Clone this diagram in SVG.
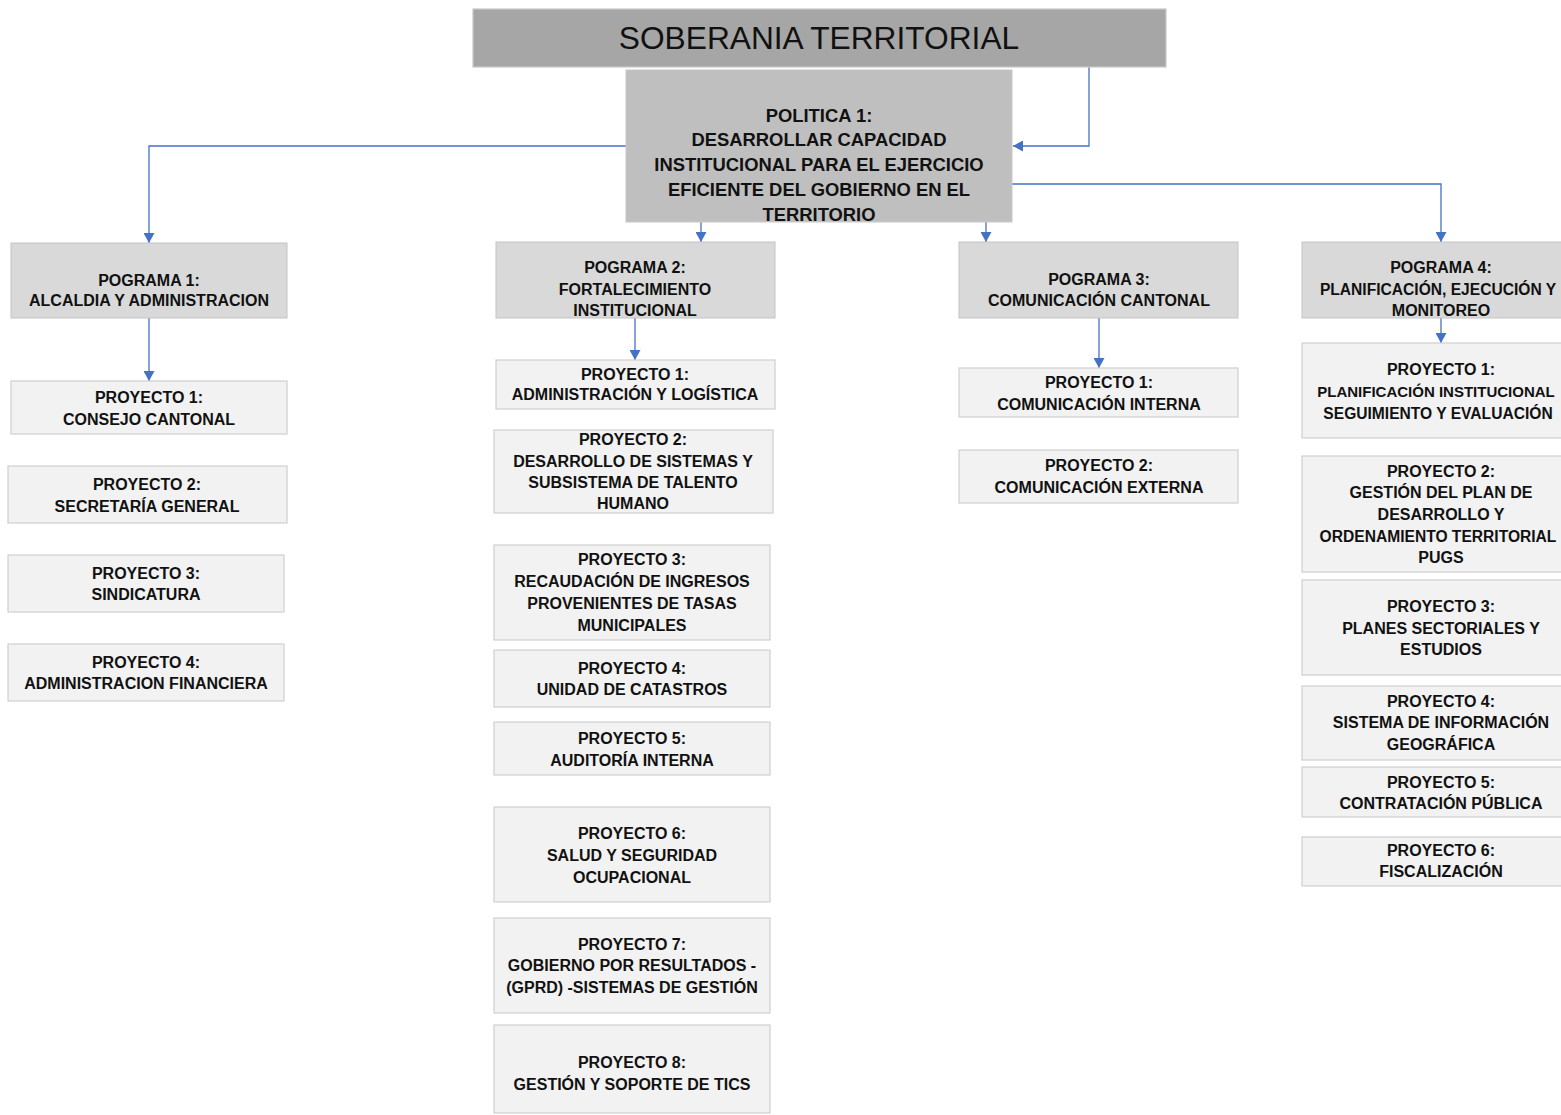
<svg xmlns="http://www.w3.org/2000/svg" width="1561" height="1115" viewBox="0 0 1561 1115">
<defs>
<marker id="arr" markerUnits="userSpaceOnUse" markerWidth="11" markerHeight="11" refX="10" refY="5.5" orient="auto">
<path d="M0,0 L10,5.5 L0,11 z" fill="#4472c4"/>
</marker>
</defs>
<style>
.t{font-family:"Liberation Sans",Arial,sans-serif;font-weight:bold;font-size:16px;fill:#111;text-anchor:middle}
.pol{font-family:"Liberation Sans",Arial,sans-serif;font-weight:bold;font-size:18.4px;fill:#111;text-anchor:middle}
.title{font-family:"Liberation Sans",Arial,sans-serif;font-size:31.7px;fill:#111;text-anchor:middle}
.prog{fill:#d9d9d9;stroke:#c4c4c4;stroke-width:1}
.proy{fill:#f2f2f2;stroke:#cfcfcf;stroke-width:1.2}
.c{fill:none;stroke:#4472c4;stroke-width:1.3;marker-end:url(#arr)}
</style>
<rect width="1561" height="1115" fill="#ffffff"/>

<g id="connectors">
<path class="c" d="M1089,67 V146 H1013"/>
<path class="c" d="M626,146 H149 V243"/>
<path class="c" d="M1012,184 H1441 V242"/>
<path class="c" d="M701,222 V242"/>
<path class="c" d="M986,222 V242"/>
<path class="c" d="M149,318 V381"/>
<path class="c" d="M635,318 V360"/>
<path class="c" d="M1099,318 V368"/>
<path class="c" d="M1441,318 V343"/>
</g>

<g id="title">
<rect x="473" y="9" width="693" height="58" fill="#a6a6a6" stroke="#c8c8c8" stroke-width="1.2"/>
<text class="title" x="819" y="49">SOBERANIA TERRITORIAL</text>
</g>

<g id="politica">
<rect x="626" y="70" width="386" height="152" fill="#bfbfbf" stroke="#c8c8c8" stroke-width="1"/>
<text class="pol"><tspan x="819" y="121.5">POLITICA 1:</tspan><tspan x="819" y="145.5">DESARROLLAR CAPACIDAD</tspan><tspan x="819" y="170.5">INSTITUCIONAL PARA EL EJERCICIO</tspan><tspan x="819" y="195.5">EFICIENTE DEL GOBIERNO EN EL</tspan><tspan x="819" y="221">TERRITORIO</tspan></text>
</g>

<!-- Column 1 -->
<g id="programa1">
<rect class="prog" x="11" y="243" width="276" height="75"/>
<text class="t"><tspan x="149" y="285.5">POGRAMA 1:</tspan><tspan x="149" y="305.5">ALCALDIA Y ADMINISTRACION</tspan></text>
</g>
<g id="p1-proyecto1">
<rect class="proy" x="11" y="381" width="276" height="53"/>
<text class="t"><tspan x="149" y="402.5">PROYECTO 1:</tspan><tspan x="149" y="424.5">CONSEJO CANTONAL</tspan></text>
</g>
<g id="p1-proyecto2">
<rect class="proy" x="8" y="466" width="279" height="57"/>
<text class="t"><tspan x="147" y="489.5">PROYECTO 2:</tspan><tspan x="147" y="511.5">SECRETARÍA GENERAL</tspan></text>
</g>
<g id="p1-proyecto3">
<rect class="proy" x="8" y="555" width="276" height="57"/>
<text class="t"><tspan x="146" y="578.5">PROYECTO 3:</tspan><tspan x="146" y="599.5">SINDICATURA</tspan></text>
</g>
<g id="p1-proyecto4">
<rect class="proy" x="8" y="644" width="276" height="57"/>
<text class="t"><tspan x="146" y="667.5">PROYECTO 4:</tspan><tspan x="146" y="688.5">ADMINISTRACION FINANCIERA</tspan></text>
</g>

<!-- Column 2 -->
<g id="programa2">
<rect class="prog" x="496" y="242" width="279" height="76"/>
<text class="t"><tspan x="635" y="272.5">POGRAMA 2:</tspan><tspan x="635" y="294.5">FORTALECIMIENTO</tspan><tspan x="635" y="315.5">INSTITUCIONAL</tspan></text>
</g>
<g id="p2-proyecto1">
<rect class="proy" x="496" y="360" width="279" height="49"/>
<text class="t"><tspan x="635" y="379.5">PROYECTO 1:</tspan><tspan x="635" y="399.5">ADMINISTRACIÓN Y LOGÍSTICA</tspan></text>
</g>
<g id="p2-proyecto2">
<rect class="proy" x="494" y="430" width="279" height="83"/>
<text class="t"><tspan x="633" y="444.5">PROYECTO 2:</tspan><tspan x="633" y="466.5">DESARROLLO DE SISTEMAS Y</tspan><tspan x="633" y="487.5">SUBSISTEMA DE TALENTO</tspan><tspan x="633" y="508.5">HUMANO</tspan></text>
</g>
<g id="p2-proyecto3">
<rect class="proy" x="494" y="545" width="276" height="95"/>
<text class="t"><tspan x="632" y="564.5">PROYECTO 3:</tspan><tspan x="632" y="586.5">RECAUDACIÓN DE INGRESOS</tspan><tspan x="632" y="608.5">PROVENIENTES DE TASAS</tspan><tspan x="632" y="630.5">MUNICIPALES</tspan></text>
</g>
<g id="p2-proyecto4">
<rect class="proy" x="494" y="650" width="276" height="57"/>
<text class="t"><tspan x="632" y="673.5">PROYECTO 4:</tspan><tspan x="632" y="694.5">UNIDAD DE CATASTROS</tspan></text>
</g>
<g id="p2-proyecto5">
<rect class="proy" x="494" y="722" width="276" height="53"/>
<text class="t"><tspan x="632" y="743.5">PROYECTO 5:</tspan><tspan x="632" y="765.5">AUDITORÍA INTERNA</tspan></text>
</g>
<g id="p2-proyecto6">
<rect class="proy" x="494" y="807" width="276" height="95"/>
<text class="t"><tspan x="632" y="838.5">PROYECTO 6:</tspan><tspan x="632" y="860.5">SALUD Y SEGURIDAD</tspan><tspan x="632" y="882.5">OCUPACIONAL</tspan></text>
</g>
<g id="p2-proyecto7">
<rect class="proy" x="494" y="918" width="276" height="95"/>
<text class="t"><tspan x="632" y="949.5">PROYECTO 7:</tspan><tspan x="632" y="970.5">GOBIERNO POR RESULTADOS -</tspan><tspan x="632" y="992.5">(GPRD) -SISTEMAS DE GESTIÓN</tspan></text>
</g>
<g id="p2-proyecto8">
<rect class="proy" x="494" y="1025" width="276" height="88"/>
<text class="t"><tspan x="632" y="1067.5">PROYECTO 8:</tspan><tspan x="632" y="1089.5">GESTIÓN Y SOPORTE DE TICS</tspan></text>
</g>

<!-- Column 3 -->
<g id="programa3">
<rect class="prog" x="959" y="242" width="279" height="76"/>
<text class="t"><tspan x="1099" y="284.5">POGRAMA 3:</tspan><tspan x="1099" y="305.5">COMUNICACIÓN CANTONAL</tspan></text>
</g>
<g id="p3-proyecto1">
<rect class="proy" x="959" y="368" width="279" height="49"/>
<text class="t"><tspan x="1099" y="387.5">PROYECTO 1:</tspan><tspan x="1099" y="409.5">COMUNICACIÓN INTERNA</tspan></text>
</g>
<g id="p3-proyecto2">
<rect class="proy" x="959" y="450" width="279" height="53"/>
<text class="t"><tspan x="1099" y="470.5">PROYECTO 2:</tspan><tspan x="1099" y="492.5">COMUNICACIÓN EXTERNA</tspan></text>
</g>

<!-- Column 4 -->
<g id="programa4">
<rect class="prog" x="1302" y="242" width="278" height="76"/>
<text class="t"><tspan x="1441" y="272.5">POGRAMA 4:</tspan><tspan x="1438" y="294.5" style="font-size:15.6px">PLANIFICACIÓN, EJECUCIÓN Y</tspan><tspan x="1441" y="315.5">MONITOREO</tspan></text>
</g>
<g id="p4-proyecto1">
<rect class="proy" x="1302" y="343" width="278" height="95"/>
<text class="t"><tspan x="1441" y="374.5">PROYECTO 1:</tspan><tspan x="1436" y="396.5" style="font-size:15px">PLANIFICACIÓN INSTITUCIONAL</tspan><tspan x="1438" y="418.5" style="font-size:15.6px">SEGUIMIENTO Y EVALUACIÓN</tspan></text>
</g>
<g id="p4-proyecto2">
<rect class="proy" x="1302" y="456" width="278" height="116"/>
<text class="t"><tspan x="1441" y="476.5">PROYECTO 2:</tspan><tspan x="1441" y="497.5">GESTIÓN DEL PLAN DE</tspan><tspan x="1441" y="519.5">DESARROLLO Y</tspan><tspan x="1438" y="541.5" style="font-size:15.6px">ORDENAMIENTO TERRITORIAL</tspan><tspan x="1441" y="562.5">PUGS</tspan></text>
</g>
<g id="p4-proyecto3">
<rect class="proy" x="1302" y="580" width="278" height="95"/>
<text class="t"><tspan x="1441" y="611.5">PROYECTO 3:</tspan><tspan x="1441" y="633.5">PLANES SECTORIALES Y</tspan><tspan x="1441" y="654.5">ESTUDIOS</tspan></text>
</g>
<g id="p4-proyecto4">
<rect class="proy" x="1302" y="686" width="278" height="74"/>
<text class="t"><tspan x="1441" y="706.5">PROYECTO 4:</tspan><tspan x="1441" y="727.5">SISTEMA DE INFORMACIÓN</tspan><tspan x="1441" y="749.5">GEOGRÁFICA</tspan></text>
</g>
<g id="p4-proyecto5">
<rect class="proy" x="1302" y="767" width="278" height="50"/>
<text class="t"><tspan x="1441" y="787.5">PROYECTO 5:</tspan><tspan x="1441" y="808.5">CONTRATACIÓN PÚBLICA</tspan></text>
</g>
<g id="p4-proyecto6">
<rect class="proy" x="1302" y="837" width="278" height="49"/>
<text class="t"><tspan x="1441" y="855.5">PROYECTO 6:</tspan><tspan x="1441" y="876.5">FISCALIZACIÓN</tspan></text>
</g>
</svg>
